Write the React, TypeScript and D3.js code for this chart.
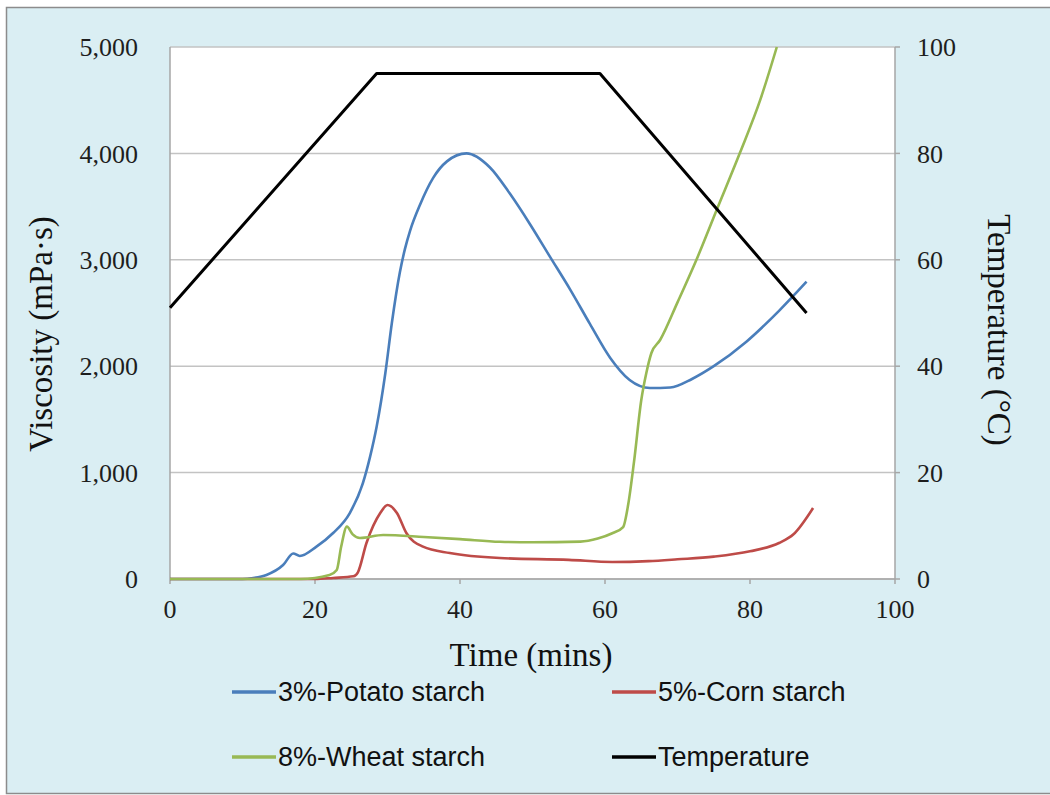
import React from 'react';
import * as d3 from 'd3';

// Viscosity curves (time in mins, viscosity in mPa·s)
const potatoTime = [0, 10, 11.5, 13.3, 15.6, 17, 17.9, 20.2, 22.5, 24.8, 26.6, 27.6, 28.5, 29.7, 30.6, 31.7, 32.4, 33.1, 34.5, 36.3, 38.2, 40.9, 44.1, 46.9, 49.7, 52.4, 55.2, 57.9, 60.7, 63.4, 66.2, 69, 72, 75, 79.5, 84, 87.8];
const potatoVisc = [0, 0, 10, 38, 131, 240, 216, 304, 432, 620, 900, 1150, 1431, 1934, 2406, 2880, 3100, 3270, 3520, 3770, 3925, 4000, 3870, 3620, 3330, 3030, 2720, 2400, 2080, 1870, 1795, 1800, 1880, 2000, 2230, 2520, 2794];

const cornTime = [0, 20, 22.5, 25.3, 25.9, 27.1, 29, 30, 31.3, 32.6, 34.9, 38.6, 45.5, 55, 61, 66, 70, 75, 80, 84, 86, 88.7];
const cornVisc = [0, 0, 10, 25, 60, 338, 620, 695, 620, 432, 304, 244, 197, 180, 160, 168, 185, 210, 260, 338, 420, 667];

const wheatTime = [0, 18, 22, 23, 23.6, 24.4, 25.2, 26.2, 29.4, 35, 40, 45.5, 50, 56.6, 59, 61, 62.5, 63.2, 64, 65, 65.7, 66.4, 67.6, 70, 72.6, 75.4, 78.6, 81.4, 83.7];
const wheatVisc = [0, 0, 38, 85, 300, 492, 420, 385, 413, 395, 375, 350, 345, 351, 380, 430, 488, 700, 1100, 1680, 1936, 2124, 2246, 2600, 2998, 3468, 4003, 4500, 5000];

// Temperature profile (°C)
const tempTime = [0, 28.5, 59.3, 87.8];
const tempValue = [51, 95, 95, 50];

const xTicks = [0, 20, 40, 60, 80, 100];
const viscTicks = [0, 1000, 2000, 3000, 4000, 5000];
const tempTicks = [0, 20, 40, 60, 80, 100];

const seriesNames = ['3%-Potato starch', '5%-Corn starch', '8%-Wheat starch', 'Temperature'];
const seriesColors = ['#4a7ebb', '#be4b48', '#98b954', '#000000'];

const W = 1050, H = 795;
const margin = {top: 47, right: 155, bottom: 216, left: 170};
const plotW = W - margin.left - margin.right;
const plotH = H - margin.top - margin.bottom;

const serif = '"Liberation Serif", "Times New Roman", serif';
const sans = '"Liberation Sans", Arial, sans-serif';

export default function App() {
    const x = d3.scaleLinear().domain([0, 100]).range([0, plotW]);
    const yV = d3.scaleLinear().domain([0, 5000]).range([plotH, 0]);
    const yT = d3.scaleLinear().domain([0, 100]).range([plotH, 0]);

    const viscLine = d3.line<[number, number]>()
        .x(d => x(d[0]))
        .y(d => yV(d[1]))
        .curve(d3.curveMonotoneX);
    const tempLine = d3.line<[number, number]>()
        .x(d => x(d[0]))
        .y(d => yT(d[1]));

    const zip = (a: number[], b: number[]) => a.map((t, i) => [t, b[i]] as [number, number]);
    const viscSeries = [
        zip(potatoTime, potatoVisc),
        zip(cornTime, cornVisc),
        zip(wheatTime, wheatVisc),
    ];
    const fmt = d3.format(',');

    return (
        <svg width={W} height={H} style={{position: 'absolute', left: 0, top: 0, display: 'block'}}>
            <rect x={0} y={0} width={W} height={H} fill="#ffffff" />
            <rect x={6.5} y={7.5} width={W + 10} height={786} fill="#daeef3" stroke="#8c8c8c" strokeWidth={1.5} />
            <g transform={`translate(${margin.left},${margin.top})`}>
                <rect x={0} y={0} width={plotW} height={plotH} fill="#ffffff" />
                {viscTicks.map(t => (
                    <line key={'g' + t} x1={0} x2={plotW} y1={yV(t)} y2={yV(t)} stroke="#c3c3c3" strokeWidth={1.5} />
                ))}
                <line x1={0} x2={0} y1={0} y2={plotH} stroke="#a6a6a6" strokeWidth={1.5} />
                <line x1={plotW} x2={plotW} y1={0} y2={plotH} stroke="#a6a6a6" strokeWidth={1.5} />
                <line x1={0} x2={plotW} y1={plotH} y2={plotH} stroke="#a6a6a6" strokeWidth={1.5} />
                {xTicks.map(t => (
                    <line key={'xt' + t} x1={x(t)} x2={x(t)} y1={plotH} y2={plotH + 5} stroke="#a6a6a6" strokeWidth={1.5} />
                ))}
                {tempTicks.map(t => (
                    <line key={'tt' + t} x1={plotW} x2={plotW + 5} y1={yT(t)} y2={yT(t)} stroke="#a6a6a6" strokeWidth={1.5} />
                ))}

                {viscSeries.map((s, i) => (
                    <path key={'s' + i} d={viscLine(s) || ''} fill="none" stroke={seriesColors[i]} strokeWidth={2.6} strokeLinejoin="round" />
                ))}
                <path d={tempLine(zip(tempTime, tempValue)) || ''} fill="none" stroke={seriesColors[3]} strokeWidth={3} strokeLinejoin="round" />

                {viscTicks.map(t => (
                    <text key={'vl' + t} x={-32} y={yV(t)} dy="0.35em" textAnchor="end" fontFamily={serif} fontSize={26} fill="#1e1e1e">{fmt(t)}</text>
                ))}
                {tempTicks.map(t => (
                    <text key={'tl' + t} x={plotW + 22} y={yT(t)} dy="0.35em" textAnchor="start" fontFamily={serif} fontSize={26} fill="#1e1e1e">{t}</text>
                ))}
                {xTicks.map(t => (
                    <text key={'xl' + t} x={x(t)} y={plotH + 30} dy="0.35em" textAnchor="middle" fontFamily={serif} fontSize={26} fill="#1e1e1e">{t}</text>
                ))}
            </g>

            <text x={531} y={666} textAnchor="middle" fontFamily={serif} fontSize={33} fill="#111">Time (mins)</text>
            <text transform="translate(52,334) rotate(-90)" textAnchor="middle" fontFamily={serif} fontSize={33} fill="#111">Viscosity (mPa·s)</text>
            <text transform="translate(988,330) rotate(90)" textAnchor="middle" fontFamily={serif} fontSize={33} fill="#111">Temperature (°C)</text>

            {seriesNames.map((name, i) => {
                const lx = i % 2 === 0 ? 232 : 612;
                const ly = i < 2 ? 692 : 757;
                return (
                    <g key={name}>
                        <line x1={lx} x2={lx + 44} y1={ly} y2={ly} stroke={seriesColors[i]} strokeWidth={3.5} />
                        <text x={lx + 46} y={ly} dy="0.35em" fontFamily={sans} fontSize={27} fill="#111">{name}</text>
                    </g>
                );
            })}
        </svg>
    );
}
